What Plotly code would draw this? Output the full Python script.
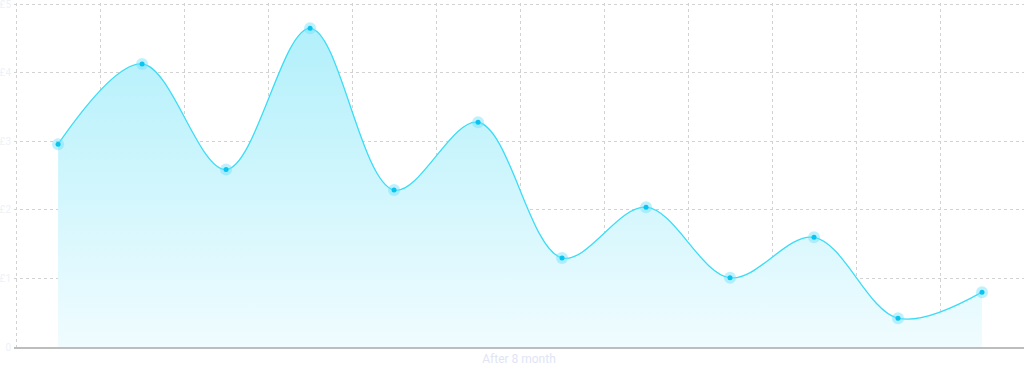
import plotly.graph_objects as go

x_idx = list(range(12))
values = [2.96, 4.13, 2.59, 4.65, 2.29, 3.28, 1.30, 2.04, 1.01, 1.60, 0.42, 0.80]
y_ticks = [0, 1, 2, 3, 4, 5]
y_labels = ["0", "£1", "£2", "£3", "£4", "£5"]

fig = go.Figure()
fig.add_trace(go.Scatter(
    x=x_idx, y=values, mode="lines", line=dict(color="#3ddcf6", width=1.3, shape="spline", smoothing=1.0),
    fill="tozeroy",
    fillgradient=dict(type="vertical", colorscale=[[0, "rgba(240,252,255,1)"], [1, "rgba(178,240,251,1)"]]),
    hoverinfo="skip", showlegend=False,
))
fig.add_trace(go.Scatter(
    x=x_idx, y=values, mode="markers",
    marker=dict(size=12, color="rgba(110,225,250,0.45)"),
    hoverinfo="skip", showlegend=False,
))
fig.add_trace(go.Scatter(
    x=x_idx, y=values, mode="markers",
    marker=dict(size=5, color="#08c4ee"),
    showlegend=False,
))

fig.update_layout(
    width=1024, height=373,
    margin=dict(l=14, r=0, t=3, b=26),
    paper_bgcolor="white", plot_bgcolor="white",
    font=dict(family="Roboto", color="#e8ecf5"),
    xaxis=dict(range=[-0.525, 11.5], tickmode="linear", tick0=0.5, dtick=1, showticklabels=False,
               showgrid=True, gridcolor="#d2d2d2", griddash="dot", gridwidth=1, zeroline=False,
               showline=True, linecolor="#bdbdbd", linewidth=1.5,
               title=dict(text="After 8 month", font=dict(size=12, color="#dfe5f5"), standoff=7)),
    yaxis=dict(range=[0, 5.02], tickvals=y_ticks, ticktext=y_labels, showgrid=True,
               gridcolor="#d2d2d2", griddash="dot", gridwidth=1, zeroline=False,
               ticklabeloverflow="allow",
               tickfont=dict(size=10, color="#eef1f7"), ticklabelstandoff=2),
)
fig.write_html("out.html")
